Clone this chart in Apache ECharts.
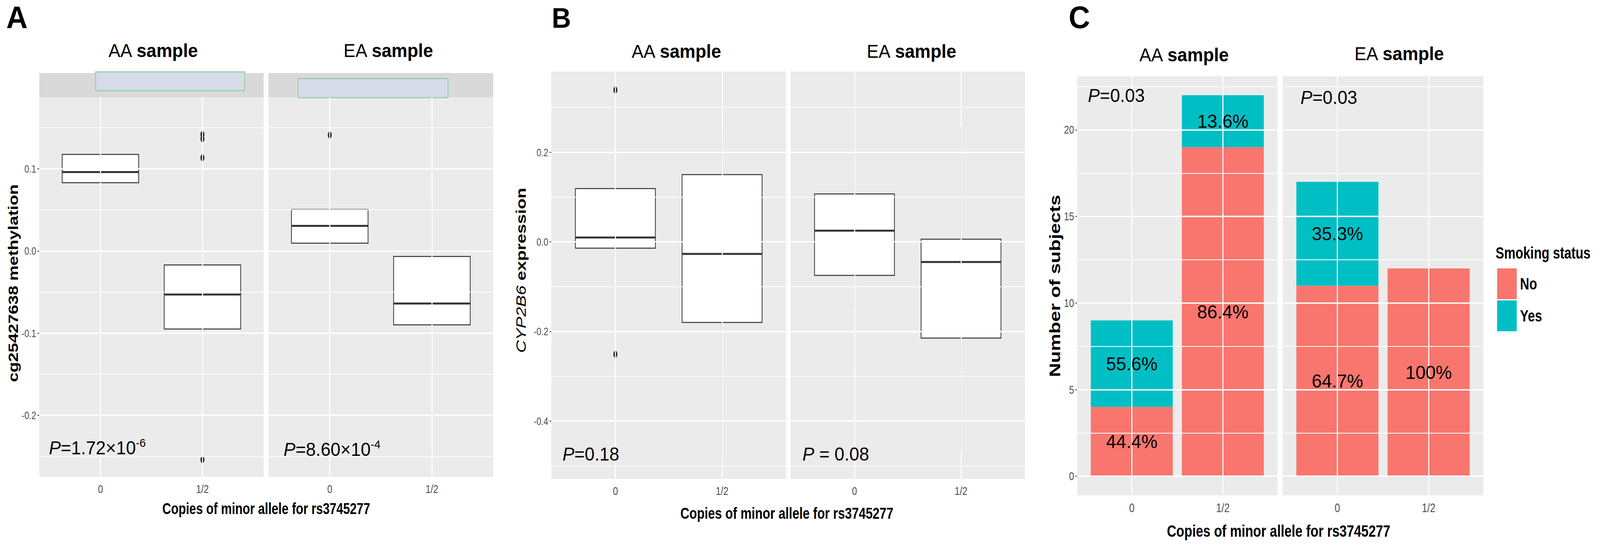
<!DOCTYPE html>
<html>
<head>
<meta charset="utf-8">
<title>rs3745277: methylation, expression and smoking status</title>
<script src="https://cdn.jsdelivr.net/npm/echarts@6/dist/echarts.min.js"></script>
<style>
  html, body { margin: 0; padding: 0; background: #fff; overflow: hidden; }
  #main { width: 5270px; height: 1408px; transform-origin: 0 0; }
</style>
</head>
<body>
<div id="main"></div>
<script>
// the published figure is squeezed sideways: draw it wide, then squeeze with css
// (also fit the 4321x1408 design to whatever the viewport really is)
const K = 4321 / 5270;
const fitX = (window.innerWidth || 4321) / 4321;
const fitY = (window.innerHeight || 1408) / 1408;
document.getElementById('main').style.transform = 'scale(' + (K * fitX) + ',' + fitY + ')';
const X = v => v / K;

const FONT = "'Liberation Sans', Arial, sans-serif";
const INK = '#333333';
const TICK = '#4D4D4D';
const PANEL = '#EBEBEB';
const RED = '#F8766D';
const TEAL = '#00BFC4';

const xCats = ['0', '1/2'];

// panel A, cg25427638 methylation: [whisker low, Q1, median, Q3, whisker high]
const methAA = [[0.060, 0.083, 0.096, 0.1175, 0.166], [-0.193, -0.095, -0.053, -0.017, 0.016]];
const methEA = [[-0.026, 0.0095, 0.0305, 0.0505, 0.0776], [-0.150, -0.090, -0.064, -0.0067, 0.0614]];
const methAAOut = [[], [0.1417, 0.1365, 0.1133, -0.254]];
const methEAOut = [[0.141], []];
const methTicks = [-0.2, -0.1, 0, 0.1];
const methMinor = [-0.25, -0.15, -0.05, 0.05, 0.15];

// panel B, CYP2B6 expression
const exprAA = [[-0.037, -0.014, 0.0096, 0.119, 0.119], [-0.488, -0.180, -0.027, 0.150, 0.239]];
const exprEA = [[-0.148, -0.075, 0.025, 0.107, 0.307], [-0.469, -0.215, -0.045, 0.006, 0.258]];
const exprAAOut = [[0.339, -0.251], []];
const exprEAOut = [[], []];
const exprTicks = [-0.4, -0.2, 0, 0.2];
const exprMinor = [-0.5, -0.3, -0.1, 0.1, 0.3];

// panel C, number of subjects by smoking status
const smokeNoAA = [4, 19];
const smokeYesAA = [5, 3];
const smokeNoEA = [11, 12];
const smokeYesEA = [6, 0];
const countTicks = [0, 5, 10, 15, 20];
const countMinor = [2.5, 7.5, 12.5, 17.5, 22.5];

const pText = {
  A1: '{i|P}{r|=1.72×10}{s|-6}',
  A2: '{i|P}{r|=8.60×10}{s|-4}',
  B1: '{i|P}{r|=0.18}',
  B2: '{i|P}{r| = 0.08}',
  C1: '{i|P}{r|=0.03}',
  C2: '{i|P}{r|=0.03}'
};

// ggplot style range: data extent plus 5% each side
function ggExtent(vals) {
  const lo = Math.min(...vals), hi = Math.max(...vals);
  const pad = (hi - lo) * 0.05;
  return [lo - pad, hi + pad];
}
const flat = a => a.flat(2);

const axes = {
  A: { ticks: methTicks, minor: methMinor, fmt: v => v.toFixed(1), lab: 28,
       ext: ggExtent(flat([methAA, methEA, methAAOut, methEAOut])) },
  B: { ticks: exprTicks, minor: exprMinor, fmt: v => v.toFixed(1), lab: 28,
       ext: ggExtent(flat([exprAA, exprEA, exprAAOut, exprEAOut])) },
  C: { ticks: countTicks, minor: countMinor, fmt: v => String(v), lab: 30,
       ext: ggExtent([0].concat(smokeNoAA.map((v, i) => v + smokeYesAA[i]),
                                 smokeNoEA.map((v, i) => v + smokeYesEA[i]))) }
};

// facet boxes in final-image pixels
const facets = [
  { l: 106, r: 712, t: 249, b: 1221, ax: 'A', first: true, boxes: methAA, out: methAAOut },
  { l: 725, r: 1332, t: 249, b: 1221, ax: 'A', boxes: methEA, out: methEAOut },
  { l: 1489, r: 2123, t: 183, b: 1226, ax: 'B', first: true, boxes: exprAA, out: exprAAOut },
  { l: 2135, r: 2768, t: 183, b: 1226, ax: 'B', boxes: exprEA, out: exprEAOut },
  { l: 2909, r: 3450, t: 195, b: 1268, ax: 'C', first: true, no: smokeNoAA, yes: smokeYesAA },
  { l: 3464, r: 4006, t: 195, b: 1268, ax: 'C', no: smokeNoEA, yes: smokeYesEA }
];

function renderBox(params, api) {
  const x = api.value(0);
  const lo = api.coord([x, api.value(1)]);
  const q1 = api.coord([x, api.value(2)]);
  const md = api.coord([x, api.value(3)]);
  const q3 = api.coord([x, api.value(4)]);
  const hi = api.coord([x, api.value(5)]);
  const half = api.size([0.375, 0])[0];
  const thin = { stroke: INK, lineWidth: 2 };
  return {
    type: 'group',
    children: [
      { type: 'line', shape: { x1: lo[0], y1: lo[1], x2: q1[0], y2: q1[1] }, style: thin },
      { type: 'line', shape: { x1: q3[0], y1: q3[1], x2: hi[0], y2: hi[1] }, style: thin },
      { type: 'rect', shape: { x: q3[0] - half, y: q3[1], width: 2 * half, height: q1[1] - q3[1] },
        style: { fill: '#fff', stroke: INK, lineWidth: 2.5 } },
      { type: 'line', shape: { x1: md[0] - half, y1: md[1], x2: md[0] + half, y2: md[1] },
        style: { stroke: INK, lineWidth: 5 } }
    ]
  };
}

function barRenderer(color) {
  return function (params, api) {
    const x = api.value(0);
    const p0 = api.coord([x - 0.45, api.value(1)]);
    const p1 = api.coord([x + 0.45, api.value(2)]);
    return { type: 'rect', shape: { x: p0[0], y: p1[1], width: p1[0] - p0[0], height: p0[1] - p1[1] },
             style: { fill: color } };
  };
}

function pct(n, tot) {
  const p = n / tot * 100;
  return (p === 100 ? '100' : p.toFixed(1)) + '%';
}

const grids = [], xAxes = [], yAxes = [], series = [];

facets.forEach((f, i) => {
  const ax = axes[f.ax];
  grids.push({ left: X(f.l), top: f.t, width: X(f.r - f.l), height: f.b - f.t,
               show: true, backgroundColor: PANEL, borderWidth: 0 });
  xAxes.push({
    type: 'value', gridIndex: i, min: 0.4, max: 2.6,
    axisLine: { show: false }, splitLine: { show: false },
    axisTick: { show: true, customValues: [1, 2], length: 8, lineStyle: { color: INK, width: 2 } },
    axisLabel: { customValues: [1, 2], formatter: v => xCats[Math.round(v) - 1],
                 color: TICK, fontSize: ax.lab + 2, margin: 16, fontFamily: FONT }
  });
  yAxes.push({
    type: 'value', gridIndex: i, min: ax.ext[0], max: ax.ext[1],
    axisLine: { show: false }, splitLine: { show: false },
    axisTick: { show: !!f.first, customValues: ax.ticks, length: 6, lineStyle: { color: INK, width: 2 } },
    axisLabel: { show: !!f.first, customValues: ax.ticks, formatter: ax.fmt,
                 color: TICK, fontSize: ax.lab, margin: 10, fontFamily: FONT }
  });

  const white = w => ({ color: '#fff', type: 'solid', width: w });
  series.push({
    type: 'line', xAxisIndex: i, yAxisIndex: i, data: [], z: 1, silent: true,
    markLine: {
      silent: true, symbol: ['none', 'none'], animation: false, label: { show: false },
      lineStyle: white(3.5),
      data: ax.ticks.map(v => ({ yAxis: v, lineStyle: white(3.5) }))
        .concat(ax.minor.map(v => ({ yAxis: v, lineStyle: white(1.8) })))
        .concat([{ xAxis: 1, lineStyle: white(3.5) }, { xAxis: 2, lineStyle: white(3.5) }])
    }
  });

  if (f.boxes) {
    series.push({
      type: 'custom', xAxisIndex: i, yAxisIndex: i, z: 3, silent: true,
      renderItem: renderBox,
      encode: { x: 0, y: [1, 2, 3, 4, 5] },
      data: f.boxes.map((b, j) => [j + 1].concat(b))
    });
    const pts = [];
    f.out.forEach((vals, j) => vals.forEach(v => pts.push([j + 1, v])));
    series.push({
      type: 'scatter', xAxisIndex: i, yAxisIndex: i, z: 4, silent: true,
      symbol: 'circle', symbolSize: [13, 18],
      itemStyle: { color: '#222', opacity: 1, borderWidth: 0 }, data: pts
    });
  } else {
    series.push({
      name: 'No', type: 'custom', xAxisIndex: i, yAxisIndex: i, z: 3, silent: true,
      itemStyle: { color: RED }, renderItem: barRenderer(RED),
      encode: { x: 0, y: [1, 2] },
      data: f.no.map((v, j) => [j + 1, 0, v])
    });
    series.push({
      name: 'Yes', type: 'custom', xAxisIndex: i, yAxisIndex: i, z: 3, silent: true,
      itemStyle: { color: TEAL }, renderItem: barRenderer(TEAL),
      encode: { x: 0, y: [1, 2] },
      data: f.yes.map((v, j) => [j + 1, f.no[j], f.no[j] + v]).filter((d, j) => f.yes[j] > 0)
    });
    const segs = [];
    f.no.forEach((n, j) => {
      const tot = n + f.yes[j];
      if (n > 0) segs.push({ x: j + 1, y: n / 2, text: pct(n, tot) });
      if (f.yes[j] > 0) segs.push({ x: j + 1, y: n + f.yes[j] / 2, text: pct(f.yes[j], tot) });
    });
    series.push({
      type: 'custom', xAxisIndex: i, yAxisIndex: i, z: 5, silent: true,
      encode: { x: 0, y: 1 },
      data: segs.map(s => [s.x, s.y]),
      renderItem: (params, api) => {
        const p = api.coord([api.value(0), api.value(1)]);
        return { type: 'text', x: p[0], y: p[1], scaleX: 1 / K,
                 style: { text: segs[params.dataIndex].text, fill: '#000', fontSize: 49,
                          fontFamily: FONT, align: 'center', verticalAlign: 'middle' } };
      }
    });
  }
});

// text pasted over the figure afterwards is not squeezed: undo the css squeeze
function overlay(x, y, text, size, extra) {
  return {
    type: 'text', x: X(x), y: y, scaleX: 1 / K, z: 10,
    style: Object.assign({ text: text, fontFamily: FONT, fontSize: size, fill: '#000',
                           align: 'left', verticalAlign: 'middle' }, extra || {})
  };
}
const titleRich = {
  r: { fontFamily: FONT, fontSize: 48, fill: '#000' },
  b: { fontFamily: FONT, fontSize: 48, fontWeight: 'bold', fill: '#000' }
};
const pRich = {
  i: { fontFamily: FONT, fontSize: 48, fontStyle: 'italic', fill: '#000', lineHeight: 56 },
  r: { fontFamily: FONT, fontSize: 48, fill: '#000', lineHeight: 56 },
  s: { fontFamily: FONT, fontSize: 30, fill: '#000', verticalAlign: 'top' }
};
function facetTitle(x, y, name) {
  return overlay(x, y, '{r|' + name + ' }{b|sample}', 48, { align: 'center', rich: titleRich });
}
function pLabel(x, y, key) {
  return overlay(x, y, pText[key], 48, { rich: pRich });
}
// ggplot's own text is squeezed like the plot
function ggText(x, y, text, size, extra) {
  return {
    type: 'text', x: X(x), y: y, z: 10,
    style: Object.assign({ text: text, fontFamily: FONT, fontSize: size, fontWeight: 'bold',
                           fill: '#000', align: 'center', verticalAlign: 'middle' }, extra || {})
  };
}

const graphics = [
  // panel A strips and the boxes pasted over them
  { type: 'rect', shape: { x: X(106), y: 187, width: X(606), height: 62 }, style: { fill: '#D9D9D9' } },
  { type: 'rect', shape: { x: X(725), y: 187, width: X(607), height: 62 }, style: { fill: '#D9D9D9' } },
  { type: 'rect', z: 2, shape: { x: X(258), y: 184, width: X(403), height: 48 },
    style: { fill: '#D6DBEA', stroke: '#93D3A2', lineWidth: 3 } },
  { type: 'rect', z: 2, shape: { x: X(805), y: 201, width: X(405), height: 49 },
    style: { fill: '#D6DBEA', stroke: '#93D3A2', lineWidth: 3 } },

  overlay(17, 44, 'A', 80, { fontWeight: 'bold' }),
  overlay(1490, 46, 'B', 72, { fontWeight: 'bold' }),
  overlay(2886, 44, 'C', 80, { fontWeight: 'bold' }),

  facetTitle(413, 130, 'AA'), facetTitle(1048, 130, 'EA'),
  facetTitle(1826, 132, 'AA'), facetTitle(2461, 132, 'EA'),
  facetTitle(3197, 141, 'AA'), facetTitle(3778, 138, 'EA'),

  pLabel(132, 1147, 'A1'), pLabel(766, 1151, 'A2'),
  pLabel(1519, 1163, 'B1'), pLabel(2167, 1163, 'B2'),
  pLabel(2938, 245, 'C1'), pLabel(3512, 250, 'C2'),

  ggText(719, 1303, 'Copies of minor allele for rs3745277', 40),
  ggText(2125, 1314, 'Copies of minor allele for rs3745277', 41),
  ggText(3453, 1359, 'Copies of minor allele for rs3745277', 43),

  Object.assign(ggText(36, 725, 'cg25427638 methylation', 44), { rotation: Math.PI / 2 }),
  Object.assign(ggText(1408, 692, '{i|CYP2B6} {b|expression}', 45, {
    rich: {
      i: { fontFamily: FONT, fontSize: 45, fontStyle: 'italic', fill: '#000' },
      b: { fontFamily: FONT, fontSize: 45, fontWeight: 'bold', fill: '#000' }
    }
  }), { rotation: Math.PI / 2 }),
  Object.assign(ggText(2848, 732, 'Number of subjects', 50), { rotation: Math.PI / 2 }),

  ggText(4039, 647, 'Smoking status', 42, { align: 'left' })
];

const chart = echarts.init(document.getElementById('main'), null, { renderer: 'svg' });
chart.setOption({
  animation: false,
  backgroundColor: '#fff',
  grid: grids,
  xAxis: xAxes,
  yAxis: yAxes,
  legend: {
    data: ['No', 'Yes'], orient: 'vertical', left: X(4039), top: 682,
    itemWidth: X(53), itemHeight: 79, itemGap: 3, icon: 'rect', selectedMode: false,
    textStyle: { fontFamily: FONT, fontSize: 42, fontWeight: 'bold', color: '#000', padding: [0, 0, 0, 6] }
  },
  graphic: { elements: graphics },
  series: series
});
</script>
</body>
</html>
